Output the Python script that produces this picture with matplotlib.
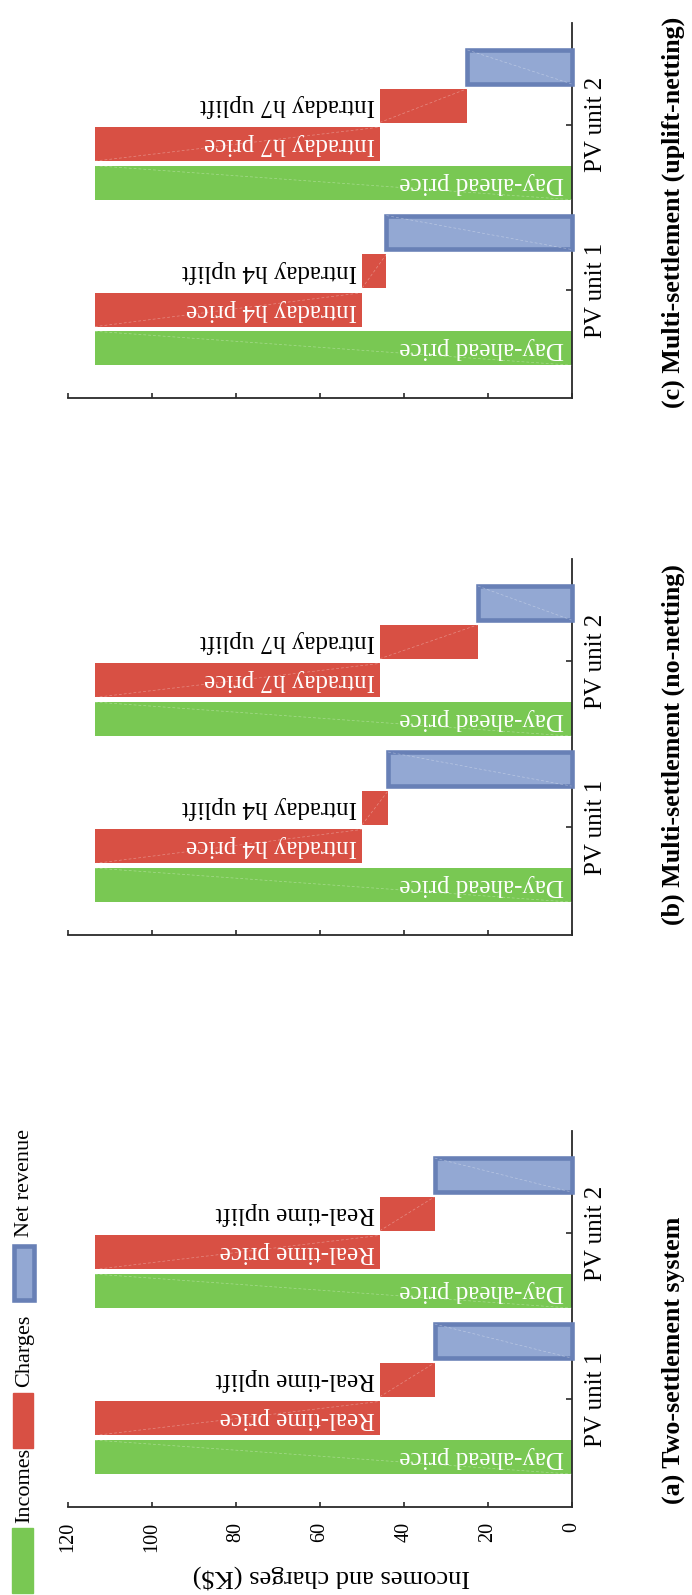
import matplotlib
matplotlib.use("Agg")
import matplotlib.pyplot as plt
from matplotlib.patches import Rectangle

plt.rcParams["font.family"] = ["Liberation Serif", "DejaVu Serif"]

# ---------------- data (K$) ----------------
units = ["PV unit 1", "PV unit 2"]
value_ticks = [0, 20, 40, 60, 80, 100, 120]

day_ahead_income = [113.6, 113.6]

two_settlement_price = [67.9, 67.9]
two_settlement_uplift = [13.1, 13.1]

no_netting_price = [63.7, 67.9]
no_netting_uplift = [6.2, 23.4]

uplift_netting_price = [63.7, 67.9]
uplift_netting_uplift = [5.8, 20.9]

two_settlement_price_labels = ["Real-time price", "Real-time price"]
two_settlement_uplift_labels = ["Real-time uplift", "Real-time uplift"]
intraday_price_labels = ["Intraday h4 price", "Intraday h7 price"]
intraday_uplift_labels = ["Intraday h4 uplift", "Intraday h7 uplift"]
income_label = "Day-ahead price"

captions = ["(a) Two-settlement system",
            "(b) Multi-settlement (no-netting)",
            "(c) Multi-settlement (uplift-netting)"]
legend_labels = ["Incomes", "Charges", "Net revenue"]
value_axis_label = "Incomes and charges (K$)"

# ---------------- style ----------------
GREEN = "#79C853"
RED = "#D85044"
BLUE_FILL = "#93A8D3"
BLUE_EDGE = "#6880B6"
SPINE = "#2a2a2a"

W, H = 692, 1595
fig = plt.figure(figsize=(W / 100, H / 100), dpi=100)

AX_LEFT, AX_RIGHT = 68, 571.5


def ax_rect(top, bottom):
    return [AX_LEFT / W, 1 - bottom / H, (AX_RIGHT - AX_LEFT) / W, (bottom - top) / H]


PITCH = 0.233
BAR_H = 0.205


def diagonal(ax, x_lo, x_hi, y_c, rising):
    # faint corner-to-corner seam across a bar
    y0, y1 = y_c - BAR_H / 2, y_c + BAR_H / 2
    ys = [y0, y1] if rising else [y1, y0]
    ax.plot([x_hi, x_lo], ys, color="white", lw=0.5, alpha=0.35,
            ls=(0, (4, 3)), zorder=4)


def draw_panel(rect, price, uplift, price_labels, uplift_labels, show_values):
    ax = fig.add_axes(rect)
    for i, unit in enumerate(units):
        inc = day_ahead_income[i]
        after_price = inc - price[i]
        net = after_price - uplift[i]
        ys = [i - 1.5 * PITCH, i - 0.5 * PITCH, i + 0.5 * PITCH, i + 1.5 * PITCH]

        ax.barh(ys[0], inc, left=0, height=BAR_H, color=GREEN, zorder=2)
        ax.barh(ys[1], price[i], left=after_price, height=BAR_H, color=RED, zorder=2)
        ax.barh(ys[2], uplift[i], left=net, height=BAR_H, color=RED, zorder=2)
        ax.barh(ys[3], net, left=0, height=BAR_H, color=BLUE_FILL,
                edgecolor=BLUE_EDGE, linewidth=3.3, zorder=3, clip_on=False)

        diagonal(ax, 0, inc, ys[0], rising=False)
        diagonal(ax, after_price, inc, ys[1], rising=True)
        diagonal(ax, net, after_price, ys[2], rising=True)
        diagonal(ax, 0, net, ys[3], rising=False)

        kw = dict(textcoords="offset pixels", rotation=180, rotation_mode="anchor",
                  ha="left", va="center", fontsize=18, zorder=5)
        ax.annotate(income_label, xy=(0, ys[0]), xytext=(-7, 0), color="white", **kw)
        ax.annotate(price_labels[i], xy=(after_price, ys[1]), xytext=(-5, 0),
                    color="white", **kw)
        ax.annotate(uplift_labels[i], xy=(after_price, ys[2]), xytext=(-5, 0),
                    color="black", **kw)

    ax.set_xlim(120, 0)
    ax.set_ylim(-0.65, 1.615)
    for s in ("top", "left"):
        ax.spines[s].set_visible(False)
    for s in ("bottom", "right"):
        ax.spines[s].set_color(SPINE)
        ax.spines[s].set_linewidth(1.3)

    ax.set_xticks(value_ticks)
    ax.set_yticks(range(len(units)))
    ax.set_yticklabels(units)
    ax.yaxis.tick_right()
    ax.tick_params(axis="y", direction="in", length=4.3, width=1.2, color=SPINE,
                   labelrotation=90, labelsize=18, pad=9.5)
    ax.tick_params(axis="x", direction="in", length=3.6, width=1.2, color=SPINE,
                   labelrotation=90, labelsize=14.5, pad=10.5,
                   labelbottom=show_values)
    for lab in ax.get_yticklabels():
        lab.set_va("center")
    return ax


draw_panel(ax_rect(1131, 1507), two_settlement_price, two_settlement_uplift,
           two_settlement_price_labels, two_settlement_uplift_labels, True)
draw_panel(ax_rect(559, 935), no_netting_price, no_netting_uplift,
           intraday_price_labels, intraday_uplift_labels, False)
draw_panel(ax_rect(23, 398), uplift_netting_price, uplift_netting_uplift,
           intraday_price_labels, intraday_uplift_labels, False)

# value-axis title under panel (a)
fig.text(331 / W, 1 - 1577 / H, value_axis_label, rotation=180,
         ha="center", va="center", fontsize=19)

# panel captions
for cap, cy in zip(captions, [1360, 745, 212]):
    fig.text(673 / W, 1 - cy / H, cap, rotation=90, ha="center", va="center",
             fontsize=18.7, fontweight="bold")

# legend column, laid out in pixel space
lg = fig.add_axes([0, 0, 1, 1])
lg.set_xlim(0, W)
lg.set_ylim(H, 0)
lg.axis("off")
lg.add_patch(Rectangle((12, 1528), 21, 65, color=GREEN))
lg.add_patch(Rectangle((13, 1393), 20, 55, color=RED))
lg.add_patch(Rectangle((13.5, 1245.5), 20, 54, facecolor=BLUE_FILL,
                       edgecolor=BLUE_EDGE, linewidth=3.3))
for txt, y0 in zip(legend_labels, [1523, 1387, 1237]):
    lg.text(25, y0, txt, rotation=90, ha="center", va="bottom", fontsize=16)

fig.savefig("out.png", dpi=100)
